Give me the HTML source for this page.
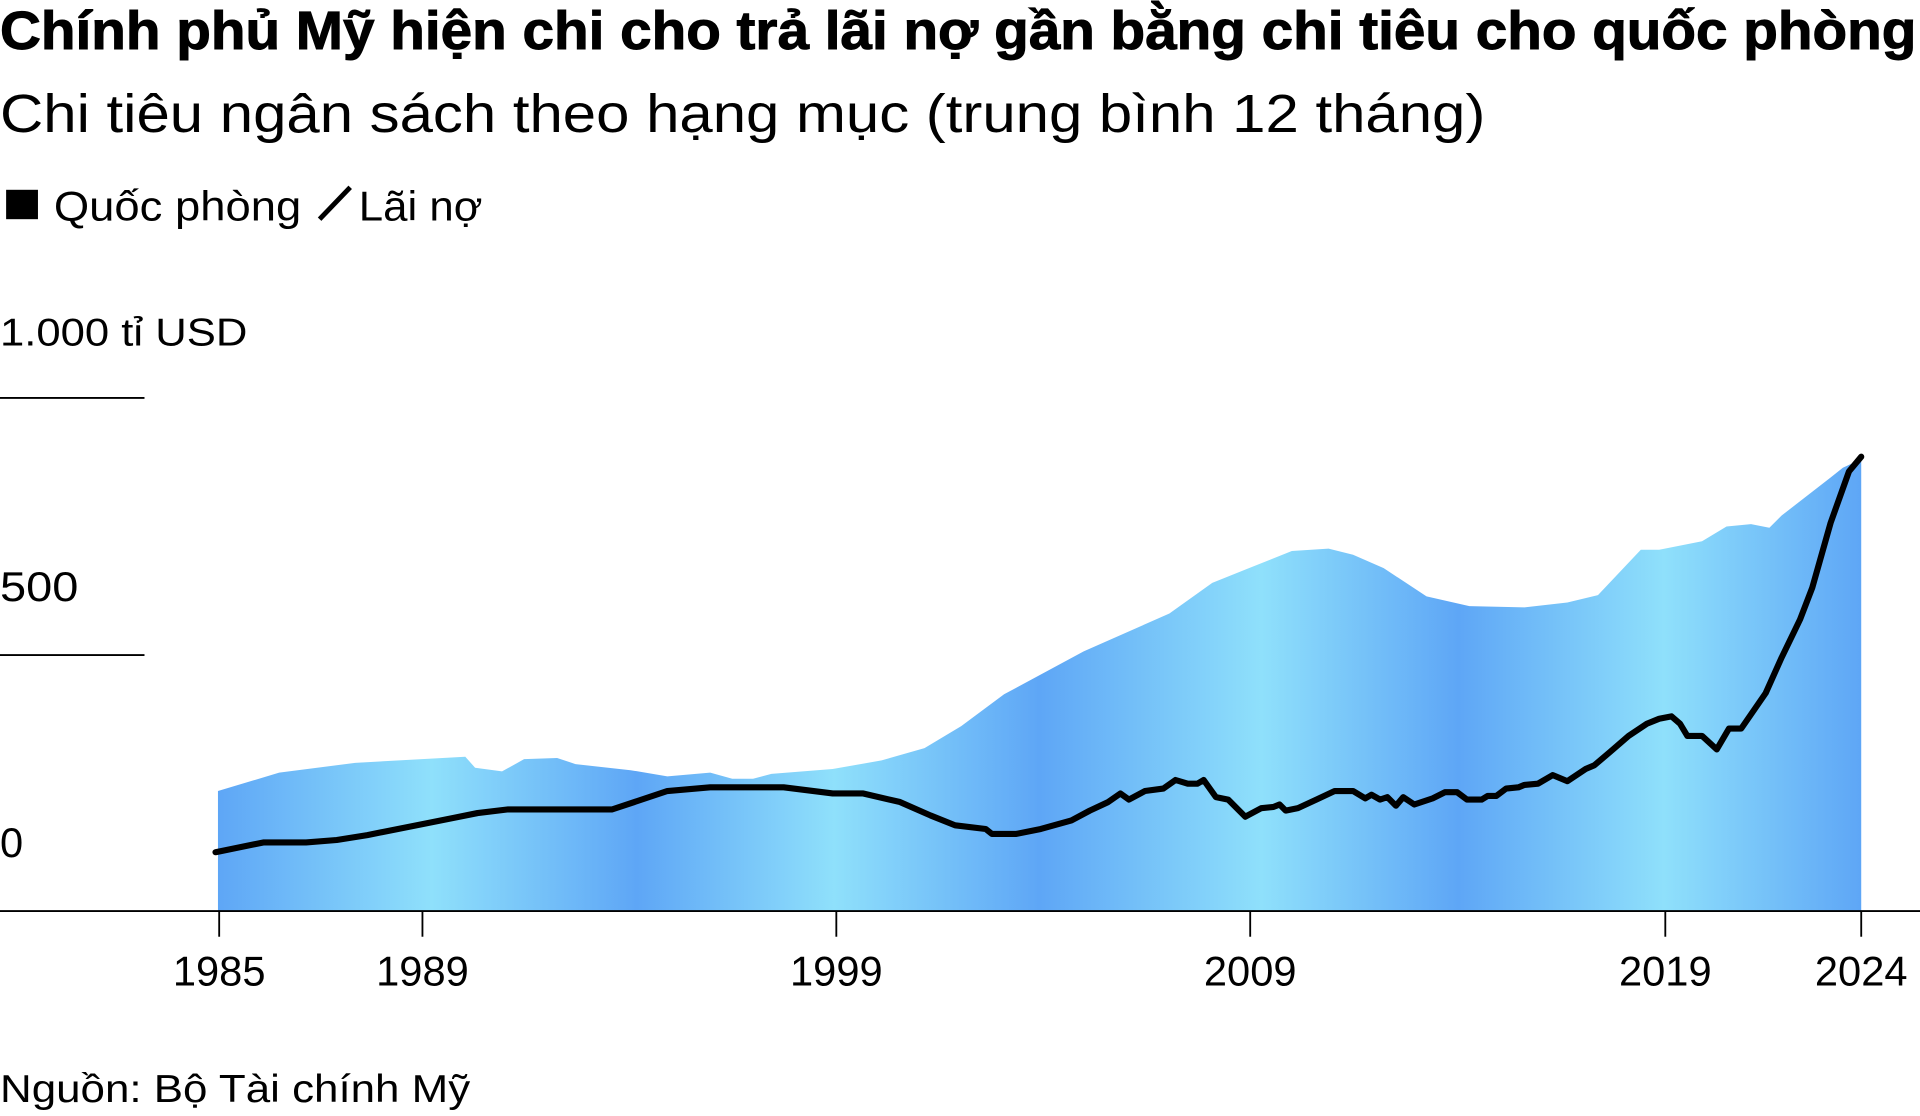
<!DOCTYPE html>
<html><head><meta charset="utf-8"><style>
html,body{margin:0;padding:0;background:#fff;width:1920px;height:1116px;overflow:hidden}
svg{display:block}
text{font-family:"Liberation Sans",sans-serif;fill:#000}
</style></head><body>
<svg width="1920" height="1116" viewBox="0 0 1568 911.4" preserveAspectRatio="none" xmlns="http://www.w3.org/2000/svg">
<defs>
<linearGradient id="g" gradientUnits="userSpaceOnUse" x1="178" y1="0" x2="1520" y2="0">
<stop offset="0" stop-color="#5ea6f6"/>
<stop offset="0.13" stop-color="#8fe0fb"/>
<stop offset="0.255" stop-color="#5ea6f6"/>
<stop offset="0.375" stop-color="#8fe0fb"/>
<stop offset="0.5" stop-color="#5ea6f6"/>
<stop offset="0.635" stop-color="#8fe0fb"/>
<stop offset="0.755" stop-color="#5ea6f6"/>
<stop offset="0.88" stop-color="#8fe0fb"/>
<stop offset="1" stop-color="#5ea6f6"/>
</linearGradient>
</defs>
<text x="0" y="40" font-size="44" font-weight="bold" stroke="#000" stroke-width="0.8" textLength="1565" lengthAdjust="spacingAndGlyphs">Chính phủ Mỹ hiện chi cho trả lãi nợ gần bằng chi tiêu cho quốc phòng</text>
<text x="0" y="108" font-size="44" textLength="1213" lengthAdjust="spacingAndGlyphs">Chi tiêu ngân sách theo hạng mục (trung bình 12 tháng)</text>
<rect x="5" y="155" width="26" height="24" fill="#000"/>
<text x="44" y="180" font-size="34" textLength="202" lengthAdjust="spacingAndGlyphs">Quốc phòng</text>
<line x1="261" y1="179" x2="286" y2="153" stroke="#000" stroke-width="4"/>
<text x="293" y="180" font-size="34" textLength="101" lengthAdjust="spacingAndGlyphs">Lãi nợ</text>
<text x="0" y="282" font-size="32" textLength="202" lengthAdjust="spacingAndGlyphs">1.000 tỉ USD</text>
<line x1="0" y1="325" x2="118" y2="325" stroke="#000" stroke-width="1.5"/>
<text x="0" y="491" font-size="34" textLength="64" lengthAdjust="spacingAndGlyphs">500</text>
<line x1="0" y1="535" x2="118" y2="535" stroke="#000" stroke-width="1.5"/>
<text x="0" y="700" font-size="34">0</text>
<polygon fill="url(#g)" points="178,646 228,631 290,623 380,618 388,627 410,630 428,620 455,619 470,624 515,629 545,634 580,631 598,636 615,636 630,632 680,628 720,621 755,611 785,593 820,567 885,532 955,501 990,476 1020,464 1055,450 1085,448 1105,453 1130,464 1165,487 1200,495 1245,496 1280,492 1305,486 1340,449 1355,449 1390,442 1410,430 1430,428 1445,431 1455,421 1495,390 1505,382 1520,375 1520,744 178,744"/>
<line x1="0" y1="744" x2="1568" y2="744" stroke="#000" stroke-width="1.5"/>
<g stroke="#000" stroke-width="1.5">
<line x1="179" y1="744" x2="179" y2="765"/><line x1="345" y1="744" x2="345" y2="765"/><line x1="683" y1="744" x2="683" y2="765"/><line x1="1021" y1="744" x2="1021" y2="765"/><line x1="1360" y1="744" x2="1360" y2="765"/><line x1="1520" y1="744" x2="1520" y2="765"/>
</g>
<g font-size="34" text-anchor="middle">
<text x="179" y="805">1985</text><text x="345" y="805">1989</text><text x="683" y="805">1999</text><text x="1021" y="805">2009</text><text x="1360" y="805">2019</text><text x="1520" y="805">2024</text>
</g>
<polyline fill="none" stroke="#000" stroke-width="5" stroke-linejoin="round" stroke-linecap="round" points="176,696 215,688 250,688 275,686 300,682 345,673 370,668 390,664 415,661 500,661 545,646 580,643 640,643 680,648 705,648 735,655 760,666 780,674 805,677 810,681 830,681 850,677 875,670 890,662 905,655 915,648 922,653 935,646 950,644 960,637 970,640 978,640 983,637 993,651 1003,653 1017,667 1030,660 1040,659 1045,657 1050,662 1060,660 1075,653 1090,646 1105,646 1115,652 1120,649 1127,653 1133,651 1140,658 1146,651 1155,657 1170,652 1180,647 1190,647 1198,653 1210,653 1215,650 1222,650 1230,644 1240,643 1245,641 1256,640 1268,633 1280,638 1295,628 1302,625 1315,614 1330,601 1345,591 1355,587 1365,585 1372,591 1378,601 1390,601 1402,612 1412,595 1422,595 1442,566 1455,537 1470,506 1480,480 1495,427 1510,385 1520,373"/>
<text x="0" y="900" font-size="32" textLength="384" lengthAdjust="spacingAndGlyphs">Nguồn: Bộ Tài chính Mỹ</text>
</svg>
</body></html>
